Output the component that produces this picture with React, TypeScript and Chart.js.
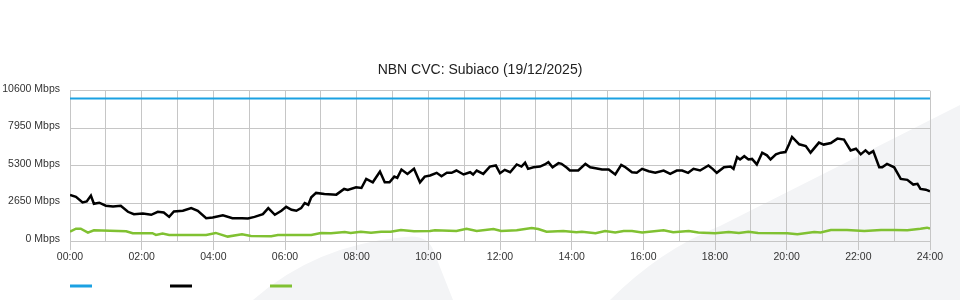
import React, { useEffect, useRef } from 'react';
import { Chart, registerables } from 'chart.js';

Chart.register(...registerables);

const TITLE = 'NBN CVC: Subiaco (19/12/2025)';
const seriesLabels = ['Capacity', 'Download', 'Upload'];
const seriesColors = ['#1ba1e2', '#000000', '#80c132'];
const xTickLabels = ['00:00', '02:00', '04:00', '06:00', '08:00', '10:00', '12:00', '14:00', '16:00', '18:00', '20:00', '22:00', '24:00'];
const yTickValues = [0, 2650, 5300, 7950, 10600];

// minutes since midnight
const capacityTimes = [0, 1440];
const capacityValues = [10050, 10050];

const downloadTimes = [
  0, 10, 21, 28, 35, 40, 49, 60, 72, 85,
  97, 107, 122, 136, 147, 157, 166, 174, 189, 203,
  214, 228, 239, 256, 272, 288, 298, 309, 323, 332,
  343, 354, 362, 371, 379, 387, 393, 399, 404, 412,
  426, 446, 459, 465, 479, 488, 496, 507, 519, 527,
  535, 543, 548, 555, 565, 576, 586, 594, 603, 614,
  622, 631, 639, 647, 659, 670, 675, 681, 692, 703,
  713, 720, 728, 737, 748, 756, 762, 767, 776, 787,
  795, 801, 808, 818, 823, 832, 837, 851, 863, 871,
  880, 891, 902, 913, 923, 930, 941, 949, 958, 969,
  980, 994, 1005, 1016, 1025, 1035, 1044, 1055, 1069, 1076,
  1083, 1095, 1106, 1111, 1117, 1122, 1129, 1136, 1142, 1150,
  1159, 1167, 1173, 1182, 1190, 1198, 1204, 1209, 1221, 1232,
  1240, 1254, 1262, 1274, 1285, 1296, 1307, 1316, 1324, 1332,
  1338, 1345, 1355, 1360, 1368, 1380, 1391, 1402, 1412, 1419,
  1424, 1433, 1440,
];
const downloadValues = [
  3250, 3120, 2720, 2790, 3200, 2630, 2700, 2490, 2440, 2490,
  2060, 1890, 1940, 1850, 2060, 2010, 1700, 2080, 2130, 2320,
  2130, 1610, 1660, 1820, 1610, 1610, 1590, 1700, 1890, 2320,
  1850, 2130, 2410, 2200, 2130, 2320, 2680, 2560, 3080, 3390,
  3320, 3270, 3670, 3600, 3790, 3740, 4380, 4140, 4900, 4140,
  4140, 4540, 4450, 5040, 4730, 5090, 4140, 4540, 4620, 4810,
  4570, 4810, 4810, 4970, 4690, 4850, 4690, 4970, 4730, 5250,
  5330, 4780, 5020, 4850, 5400, 5250, 5520, 5090, 5200, 5250,
  5400, 5560, 5200, 5490, 5440, 5160, 4970, 4970, 5440, 5200,
  5130, 5040, 5040, 4690, 5370, 5200, 4850, 4810, 5090, 4920,
  4810, 4970, 4730, 4970, 4970, 4810, 5090, 4970, 5330, 5090,
  4810, 5200, 5250, 5090, 5910, 5750, 5980, 5750, 5790, 5400,
  6230, 6040, 5750, 6110, 6230, 6270, 6820, 7340, 6820, 6700,
  6230, 6940, 6800, 6910, 7220, 7150, 6390, 6510, 6110, 6390,
  6160, 6340, 5200, 5200, 5440, 5200, 4380, 4310, 3980, 4030,
  3670, 3620, 3500,
];

const uploadTimes = [
  0, 10, 18, 30, 40, 94, 105, 138, 144, 155,
  166, 228, 244, 264, 288, 303, 337, 348, 404, 420,
  437, 460, 470, 487, 504, 521, 537, 554, 576, 603,
  611, 647, 664, 681, 709, 722, 748, 773, 784, 798,
  826, 848, 857, 880, 896, 913, 927, 941, 958, 994,
  1010, 1036, 1052, 1080, 1103, 1120, 1136, 1152, 1201, 1218,
  1246, 1257, 1274, 1301, 1330, 1358, 1380, 1402, 1424, 1435,
  1440,
];
const uploadValues = [
  660, 870, 870, 590, 760, 690, 550, 550, 430, 520,
  430, 430, 570, 310, 470, 355, 330, 420, 420, 570,
  550, 640, 570, 660, 590, 660, 660, 780, 690, 710,
  760, 710, 870, 710, 850, 710, 760, 920, 850, 660,
  710, 620, 660, 550, 710, 600, 710, 710, 600, 760,
  620, 710, 600, 550, 640, 570, 660, 570, 550, 470,
  640, 600, 780, 780, 710, 780, 780, 760, 870, 940,
  870,
];

const GRID = '#c6c6c6';
const FONT = 'Liberation Sans, Arial, Helvetica, sans-serif';

const toPoints = (times: number[], values: number[]) => times.map((t, i) => ({ x: t, y: values[i] }));

const backgroundPlugin = {
  id: 'bgShapes',
  beforeDraw(chart: any) {
    const { ctx } = chart;
    ctx.save();
    ctx.fillStyle = '#f3f4f6';
    ctx.beginPath();
    ctx.moveTo(253, 300);
    ctx.quadraticCurveTo(315, 245, 405, 237);
    ctx.quadraticCurveTo(428, 234, 434, 252);
    ctx.lineTo(453, 300);
    ctx.closePath();
    ctx.fill();
    ctx.beginPath();
    ctx.moveTo(610, 300);
    ctx.quadraticCurveTo(660, 250, 720, 226);
    ctx.lineTo(960, 105);
    ctx.lineTo(960, 300);
    ctx.closePath();
    ctx.fill();
    ctx.restore();
  },
};

const legendPlugin = {
  id: 'lineLegend',
  afterDraw(chart: any) {
    const { ctx, chartArea } = chart;
    chart.data.datasets.forEach((ds: any, i: number) => {
      const x = chartArea.left + i * 100;
      const y = chartArea.bottom + 45;
      ctx.save();
      ctx.strokeStyle = ds.borderColor;
      ctx.lineWidth = 3;
      ctx.beginPath();
      ctx.moveTo(x, y);
      ctx.lineTo(x + 22, y);
      ctx.stroke();
      ctx.restore();
    });
  },
};

export default function App() {
  const ref = useRef<HTMLCanvasElement>(null);
  useEffect(() => {
    document.body.style.margin = '0';
    const chart = new Chart(ref.current as HTMLCanvasElement, {
      type: 'line',
      data: {
        datasets: [
          { label: seriesLabels[0], data: toPoints(capacityTimes, capacityValues), borderColor: seriesColors[0], borderWidth: 2, pointRadius: 0, tension: 0 },
          { label: seriesLabels[1], data: toPoints(downloadTimes, downloadValues), borderColor: seriesColors[1], borderWidth: 2.5, pointRadius: 0, tension: 0 },
          { label: seriesLabels[2], data: toPoints(uploadTimes, uploadValues), borderColor: seriesColors[2], borderWidth: 2.5, pointRadius: 0, tension: 0 },
        ],
      },
      options: {
        responsive: false,
        animation: false,
        layout: { padding: { top: 50, right: 0, bottom: 35.4, left: 0 } },
        plugins: {
          legend: { display: false },
          tooltip: { enabled: false },
          title: {
            display: true,
            text: TITLE,
            color: '#222',
            font: { family: FONT, size: 14, weight: 'normal' },
            padding: { top: 11.6, bottom: 12.3 },
          },
        },
        scales: {
          x: {
            type: 'linear',
            min: 0,
            max: 1440,
            ticks: {
              stepSize: 60,
              autoSkip: false,
              maxRotation: 0,
              padding: 1,
              color: '#333',
              font: { family: FONT, size: 10.5 },
              callback: (v: any) => (Number(v) % 120 === 0 ? xTickLabels[Number(v) / 120] : ''),
            },
            grid: {
              color: GRID,
              tickLength: 9,
              tickColor: (c: any) => (c.tick && c.tick.value % 120 === 0 ? GRID : 'rgba(0,0,0,0)'),
            },
            border: { color: GRID },
          },
          y: {
            min: 0,
            max: 10600,
            afterBuildTicks: (s: any) => { s.ticks = yTickValues.map((v) => ({ value: v })); },
            afterFit: (s: any) => { s.width = 70; },
            ticks: {
              padding: 10,
              labelOffset: -2,
              color: '#333',
              font: { family: FONT, size: 10.5 },
              callback: (v: any) => `${v} Mbps`,
            },
            grid: { color: GRID, drawTicks: false },
            border: { color: GRID },
          },
          yRight: {
            position: 'right',
            min: 0,
            max: 10600,
            afterFit: (s: any) => { s.width = 30; },
            ticks: { display: false },
            grid: { display: false, drawTicks: false },
            border: { display: false },
          },
        },
      },
      plugins: [backgroundPlugin, legendPlugin],
    } as any);
    return () => chart.destroy();
  }, []);
  return <canvas ref={ref} width={960} height={300} style={{ display: 'block' }} />;
}
